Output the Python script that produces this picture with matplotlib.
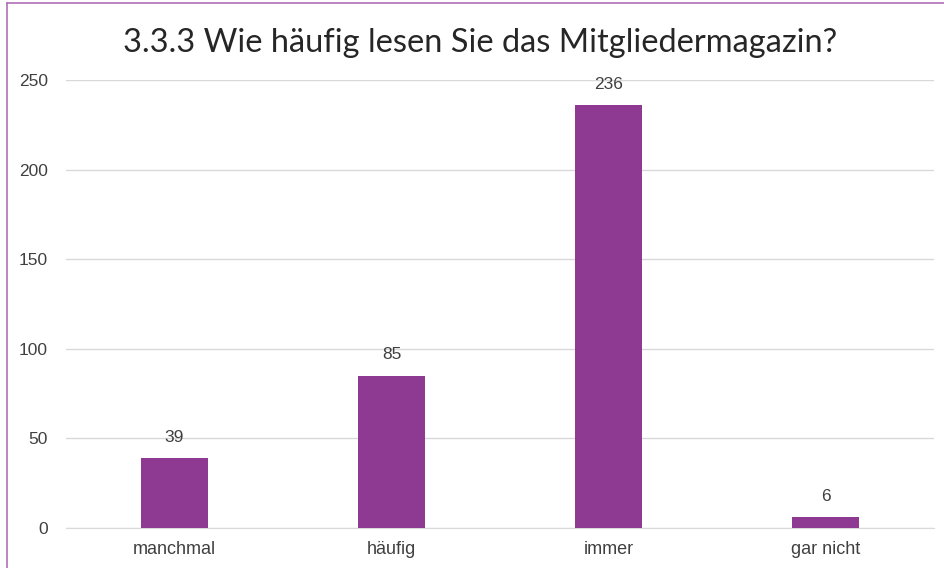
import matplotlib.pyplot as plt
from matplotlib.lines import Line2D

categories = ["manchmal", "häufig", "immer", "gar nicht"]
counts = [39, 85, 236, 6]
yticks = [0, 50, 100, 150, 200, 250]

bar_color = "#8E3A92"
text_color = "#404040"

fig = plt.figure(figsize=(9.44, 5.68), dpi=100)
ax = fig.add_axes([66 / 944, 1 - 528 / 568, 868 / 944, 448 / 568])

x = range(len(categories))
bars = ax.bar(x, counts, width=0.31, color=bar_color, zorder=3)
for b, v in zip(bars, counts):
    ax.annotate(str(v), (b.get_x() + b.get_width() / 2, v), xytext=(0, 9.5),
                textcoords="offset points", ha="center", va="bottom",
                fontsize=12.5, color=text_color, family="Liberation Sans", zorder=4)

ax.set_xlim(-0.5, len(categories) - 0.5)
ax.set_ylim(0, 250)
ax.set_yticks(yticks)
ax.set_xticks(list(x))
ax.set_xticklabels(categories)
ax.grid(axis="y", color="#d9d9d9", linewidth=1, zorder=0)
for s in ["top", "right", "left"]:
    ax.spines[s].set_visible(False)
ax.spines["bottom"].set_color("#d9d9d9")
ax.tick_params(length=0, colors=text_color)
ax.tick_params(axis="x", labelsize=13, pad=9)
ax.tick_params(axis="y", labelsize=12.5, pad=13)
for lbl in ax.get_xticklabels() + ax.get_yticklabels():
    lbl.set_family("Liberation Sans")

fig.text(480 / 944, 1 - 52 / 568, "3.3.3 Wie häufig lesen Sie das Mitgliedermagazin?",
         ha="center", va="baseline", fontsize=23.5, color="#262626", family="Lato")

# chart frame (left and top edges visible)
fig.add_artist(Line2D([7 / 944, 7 / 944], [0, 1 - 3 / 568], color="#B070B8", linewidth=1.2))
fig.add_artist(Line2D([7 / 944, 1], [1 - 3 / 568, 1 - 3 / 568], color="#B070B8", linewidth=1.2))

fig.savefig("out.png", dpi=100)
